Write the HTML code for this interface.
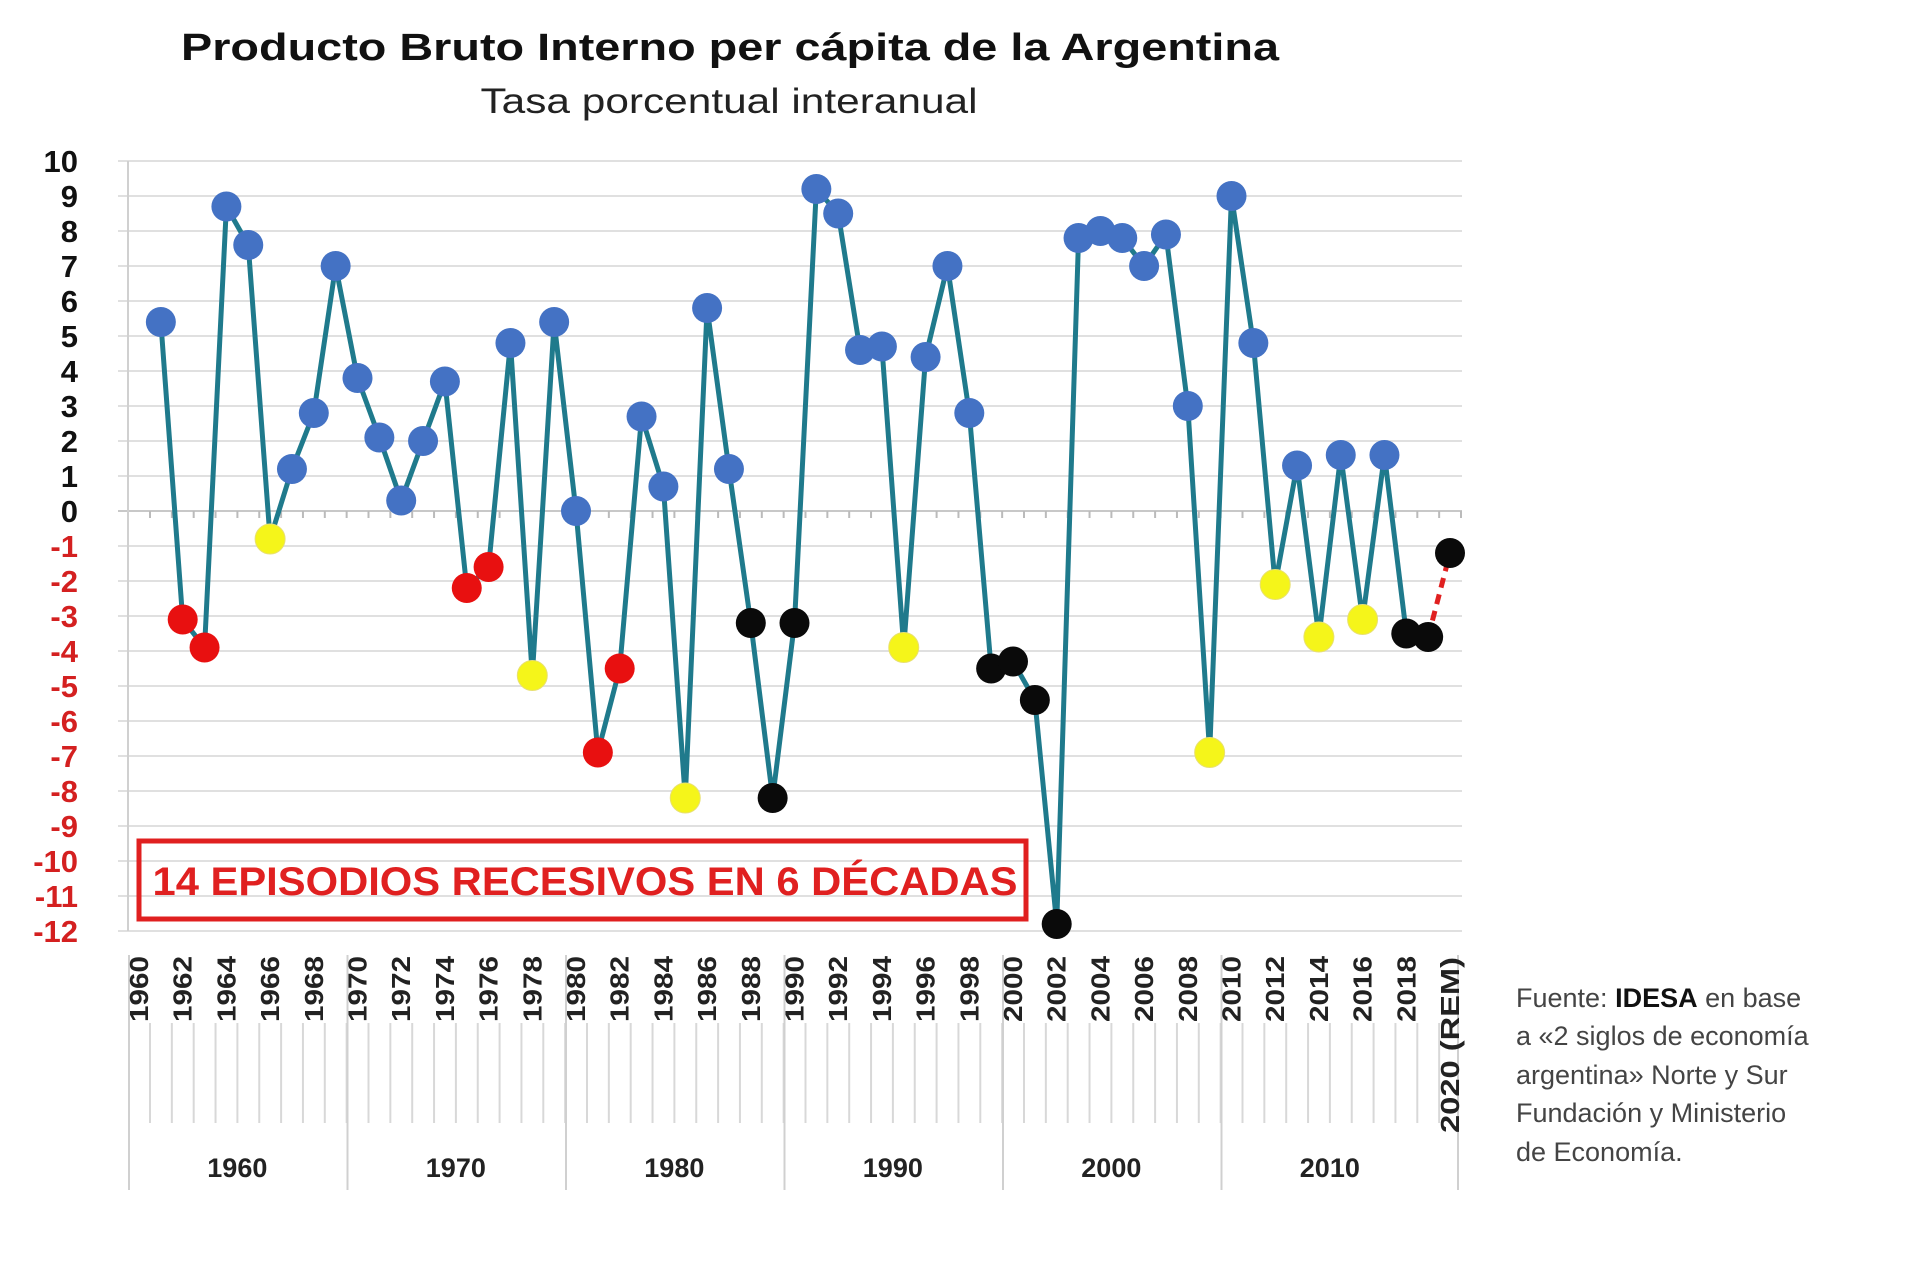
<!DOCTYPE html>
<html><head><meta charset="utf-8"><style>html,body{margin:0;padding:0;background:#fff}svg{display:block}</style></head>
<body>
<svg width="1920" height="1275" viewBox="0 0 1920 1275" xmlns="http://www.w3.org/2000/svg" font-family="Liberation Sans, sans-serif">
<rect width="1920" height="1275" fill="#fff"/>
<text x="730" y="60" text-anchor="middle" font-size="38" font-weight="bold" fill="#111" textLength="1098" lengthAdjust="spacingAndGlyphs">Producto Bruto Interno per cápita de la Argentina</text>
<text x="729" y="113" text-anchor="middle" font-size="35" fill="#222" textLength="497" lengthAdjust="spacingAndGlyphs">Tasa porcentual interanual</text>
<g id="grid"></g>
<g id="xax"></g>
<g id="data"></g>
<rect x="139" y="841" width="887" height="78" fill="none" stroke="#e02020" stroke-width="5"/>
<text x="585" y="895" text-anchor="middle" font-size="40" font-weight="bold" fill="#e02020" textLength="865" lengthAdjust="spacingAndGlyphs">14 EPISODIOS RECESIVOS EN 6 DÉCADAS</text>
<g font-size="27" fill="#444">
<text x="1516" y="1007">Fuente: <tspan font-weight="bold" fill="#111">IDESA</tspan> en base</text>
<text x="1516" y="1045">a «2 siglos de economía</text>
<text x="1516" y="1084">argentina» Norte y Sur</text>
<text x="1516" y="1122">Fundación y Ministerio</text>
<text x="1516" y="1161">de Economía.</text>
</g>
</svg>
<script>
const NS="http://www.w3.org/2000/svg";
function el(p,t,a,txt){const e=document.createElementNS(NS,t);for(const k in a)e.setAttribute(k,a[k]);if(txt!==undefined)e.textContent=txt;p.appendChild(e);return e;}
const X=y=>139+21.85*(y-1960), Y=v=>511-v*35.0;
const g=document.getElementById('grid');
for(let v=-12;v<=10;v++){
 el(g,'line',{x1:118,x2:1462,y1:Y(v),y2:Y(v),stroke:v==0?'#c8c8c8':'#e0e0e0','stroke-width':2});
 el(g,'text',{x:78,y:Y(v)+11,'text-anchor':'end','font-size':31,'font-weight':'bold',fill:v<0?'#d42020':'#111'},v);
}
el(g,'line',{x1:128,x2:128,y1:Y(10),y2:Y(-12),stroke:'#d0d0d0','stroke-width':2});
for(let y=1960;y<=2020;y++) el(g,'line',{x1:X(y)+11,x2:X(y)+11,y1:Y(0),y2:Y(0)+7,stroke:'#bbb','stroke-width':2});
const xa=document.getElementById('xax');
for(let y=1960;y<2020;y++) el(xa,'line',{x1:X(y)+11,x2:X(y)+11,y1:1023,y2:1123,stroke:'#d8d8d8','stroke-width':2});
for(let k=0;k<=6;k++){const x=k==6?1458:X(1960+10*k)-10; el(xa,'line',{x1:x,x2:x,y1:955,y2:1190,stroke:'#d0d0d0','stroke-width':2});}
for(let k=0;k<6;k++) el(xa,'text',{x:X(1964.5+10*k),y:1177,'text-anchor':'middle','font-size':27,'font-weight':'bold',fill:'#222'},1960+10*k);
for(let y=1960;y<=2018;y+=2) el(xa,'text',{transform:`translate(${X(y)+9},1022) rotate(-90)`,'font-size':26,'font-weight':'bold',fill:'#222',textLength:66,lengthAdjust:'spacingAndGlyphs'},y);
el(xa,'text',{transform:`translate(${X(2020)+9},1133) rotate(-90)`,'font-size':26,'font-weight':'bold',fill:'#222',textLength:176,lengthAdjust:'spacingAndGlyphs'},'2020 (REM)');
const d=[[5.4,'b'],[-3.1,'r'],[-3.9,'r'],[8.7,'b'],[7.6,'b'],[-0.8,'y'],[1.2,'b'],[2.8,'b'],[7.0,'b'],[3.8,'b'],[2.1,'b'],[0.3,'b'],[2.0,'b'],[3.7,'b'],[-2.2,'r'],[-1.6,'r'],[4.8,'b'],[-4.7,'y'],[5.4,'b'],[0.0,'b'],[-6.9,'r'],[-4.5,'r'],[2.7,'b'],[0.7,'b'],[-8.2,'y'],[5.8,'b'],[1.2,'b'],[-3.2,'k'],[-8.2,'k'],[-3.2,'k'],[9.2,'b'],[8.5,'b'],[4.6,'b'],[4.7,'b'],[-3.9,'y'],[4.4,'b'],[7.0,'b'],[2.8,'b'],[-4.5,'k'],[-4.3,'k'],[-5.4,'k'],[-11.8,'k'],[7.8,'b'],[8.0,'b'],[7.8,'b'],[7.0,'b'],[7.9,'b'],[3.0,'b'],[-6.9,'y'],[9.0,'b'],[4.8,'b'],[-2.1,'y'],[1.3,'b'],[-3.6,'y'],[1.6,'b'],[-3.1,'y'],[1.6,'b'],[-3.5,'k'],[-3.6,'k'],[-1.2,'k']];
const dg=document.getElementById('data');
let pts=[];for(let i=0;i<59;i++)pts.push(X(1961+i)+','+Y(d[i][0]));
el(dg,'polyline',{points:pts.join(' '),fill:'none',stroke:'#1f7a8c','stroke-width':5,'stroke-linejoin':'round'});
el(dg,'line',{x1:X(2019),y1:Y(-3.6),x2:X(2020),y2:Y(-1.2),stroke:'#e02020','stroke-width':5,'stroke-dasharray':'10,7'});
const col={b:'#4472c4',r:'#e81010',y:'#f5f51a',k:'#0a0a0a'};
d.forEach((p,i)=>el(dg,'circle',{cx:X(1961+i),cy:Y(p[0]),r:15,fill:col[p[1]],stroke:p[1]=='y'?'#e8e070':'none','stroke-width':1}));
</script>
</body></html>
